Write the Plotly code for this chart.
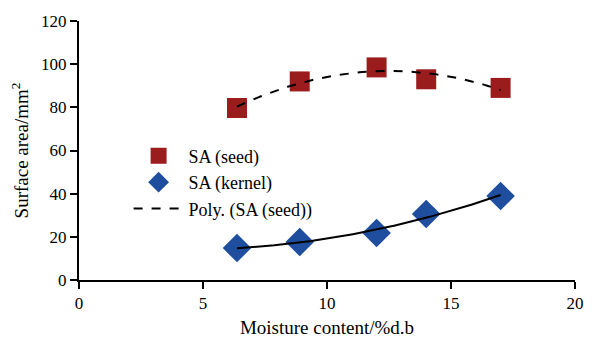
import numpy as np
import plotly.graph_objects as go

moisture = [6.37, 8.9, 12.0, 14.0, 17.0]
sa_seed = [79.7, 92.0, 98.5, 93.0, 89.0]
sa_kernel = [14.8, 17.6, 21.8, 30.6, 38.9]
x_ticks = [0, 5, 10, 15, 20]
y_ticks = [0, 20, 40, 60, 80, 100, 120]

xs = np.linspace(min(moisture), max(moisture), 100)
seed_fit = np.polyval(np.polyfit(moisture, sa_seed, 2), xs)
kernel_fit = np.polyval(np.polyfit(moisture, sa_kernel, 2), xs)

font = "Times New Roman, Liberation Serif, serif"
f_tick = dict(family=font, size=17, color="black")
f_title = dict(family=font, size=19, color="black")
f_leg = dict(family=font, size=18, color="black")
fig = go.Figure()
fig.add_trace(go.Scatter(x=moisture, y=sa_seed, mode="markers", name="SA (seed)",
                         legendgroup="a",
                         marker=dict(symbol="square", size=20, color="#9B1C1C",
                                     line=dict(width=0))))
fig.add_trace(go.Scatter(x=moisture, y=sa_kernel, mode="markers", name="SA (kernel)",
                         legendgroup="b",
                         marker=dict(symbol="diamond", size=22, color="#1F4E9E",
                                     line=dict(width=0))))
fig.add_trace(go.Scatter(x=xs, y=seed_fit, mode="lines", name="Poly. (SA (seed))",
                         legendgroup="c",
                         line=dict(color="black", width=2, dash="dash")))
fig.add_trace(go.Scatter(x=xs, y=kernel_fit, mode="lines", showlegend=False,
                         line=dict(color="black", width=2)))

fig.update_layout(
    width=586, height=330,
    margin=dict(l=71, r=19, t=13, b=58),
    plot_bgcolor="white", paper_bgcolor="white",
    font=f_tick,
    legend=dict(x=0.10, y=0.55, xanchor="left", yanchor="top",
                bgcolor="rgba(0,0,0,0)", tracegroupgap=0, itemwidth=50,
                traceorder="grouped", font=f_leg),
    xaxis=dict(range=[0, 20], tickvals=x_ticks, showgrid=False, zeroline=False,
               showline=True, linecolor="black", linewidth=2, automargin=False,
               ticks="outside", ticklen=7, tickwidth=2, tickcolor="black",
               tickfont=f_tick,
               title=dict(text="Moisture content/%d.b", standoff=14, font=f_title)),
    yaxis=dict(range=[0, 120], tickvals=y_ticks, showgrid=False, zeroline=False,
               showline=True, linecolor="black", linewidth=2, automargin=False,
               ticks="outside", ticklen=7, tickwidth=2, tickcolor="black",
               tickfont=f_tick,
               title=dict(text="Surface area/mm<sup>2</sup>", standoff=12, font=f_title)),
)
fig.write_html("out.html")
